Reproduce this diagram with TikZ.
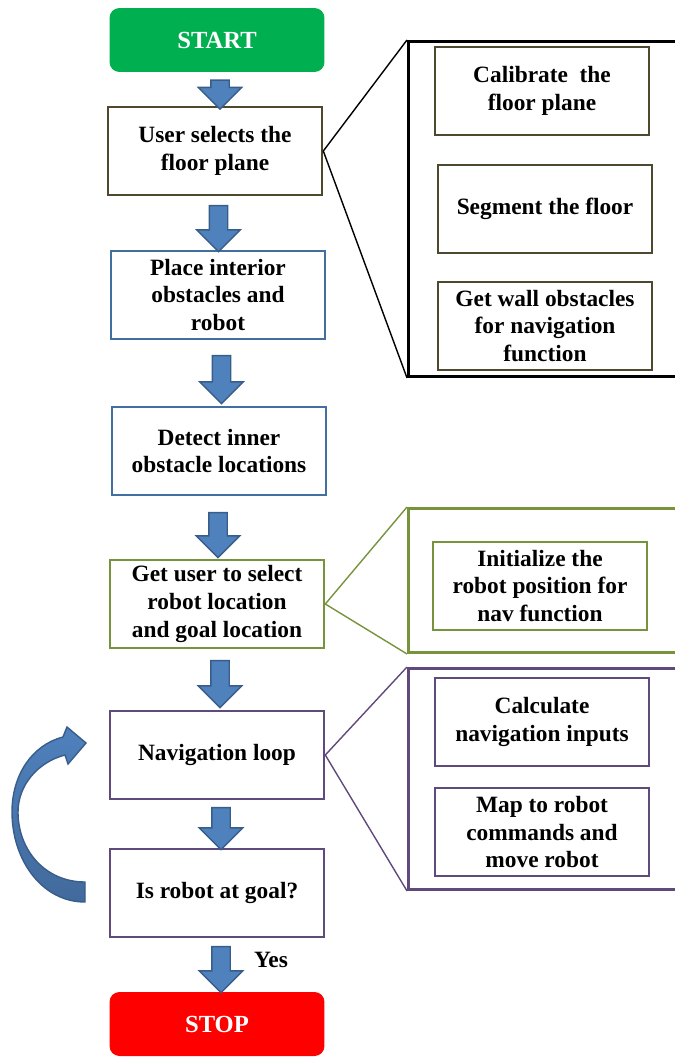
\documentclass[tikz,border=0pt]{standalone}
\usepackage{fontspec}
\setmainfont{Liberation Serif}
\usetikzlibrary{shapes.arrows,calc}
\definecolor{startgreen}{RGB}{0,176,80}
\definecolor{stopred}{RGB}{255,0,0}
\definecolor{olivebox}{RGB}{78,72,46}
\definecolor{bluebox}{RGB}{64,111,160}
\definecolor{greenbox}{RGB}{119,147,60}
\definecolor{purplebox}{RGB}{96,74,123}
\definecolor{arrowfill}{RGB}{79,129,189}
\definecolor{arrowedge}{RGB}{56,93,138}
\definecolor{arrowdark}{RGB}{66,106,156}
\tikzset{
  flowbox/.style={draw=#1, line width=1.5pt, fill=white, minimum width=4.28cm, minimum height=1.76cm, align=center, inner sep=0pt, font=\fontsize{13.3}{15.8}\selectfont\bfseries},
  endbox/.style={fill=#1, rounded corners=0.2cm, minimum width=4.3cm, minimum height=1.28cm, text=white, font=\fontsize{14}{16}\selectfont\bfseries},
  panel/.style={draw=#1, line width=1.7pt, minimum width=5.8cm, anchor=north west},
  darrow/.style={single arrow, draw=arrowedge, fill=arrowfill, line width=0.8pt, rotate=-90, minimum height=#1, minimum width=0.84cm, inner sep=0.17cm, single arrow head extend=0.25cm}
}
\begin{document}
\begin{tikzpicture}[x=0.02cm,y=-0.02cm]
\useasboundingbox (0,0) rectangle (674,1057);
\node [endbox=startgreen] (start) at (217,40) {START};
\node [flowbox=olivebox] (user) at (215,151) {User selects the\\floor plane};
\node [flowbox=bluebox] (place) at (218,295) {Place interior\\obstacles and\\robot};
\node [flowbox=bluebox] (detect) at (219,451) {Detect inner\\obstacle locations};
\node [flowbox=greenbox] (select) at (217,604) {Get user to select\\robot location\\and goal location};
\node [flowbox=purplebox] (nav) at (217,755) {Navigation loop};
\node [flowbox=purplebox] (goal) at (217,893) {Is robot at goal?};
\node [endbox=stopred] (stop) at (217,1024) {STOP};
\node [darrow=0.58cm] (a1) at ($(start.south)!0.5!(user.north)+(4,1)$) {};
\node [darrow=0.92cm] (a2) at ($(user.south)!0.5!(place.north)+(2,1)$) {};
\node [darrow=0.96cm] (a3) at ($(place.south)!0.5!(detect.north)+(3,2)$) {};
\node [darrow=0.9cm] (a4) at ($(detect.south)!0.5!(select.north)+(0,3)$) {};
\node [darrow=0.94cm] (a5) at ($(select.south)!0.5!(nav.north)+(3,0)$) {};
\node [darrow=0.84cm] (a6) at ($(nav.south)!0.5!(goal.north)+(4,0)$) {};
\node [darrow=0.92cm] (a7) at ($(goal.south)!0.5!(stop.north)+(4,0)$) {};
\node [font=\fontsize{13.3}{15.8}\selectfont\bfseries] (yes) at (271,960) {Yes};
\draw [top color=arrowfill, bottom color=arrowdark, draw=arrowedge, line width=0.8pt] (85,902) .. controls (42,902) and (12,860) .. (12,812) .. controls (12,775) and (32,745) .. (63,737) -- (67,727) -- (86,743) -- (68,764) -- (65,755) .. controls (38,762) and (18,785) .. (18,812) .. controls (18,850) and (45,882) .. (85,882) -- cycle;
\node [panel=black, minimum height=6.7cm] (p1) at (407,40) {};
\node [panel=greenbox, minimum height=2.88cm] (p2) at (407,507) {};
\node [panel=purplebox, minimum height=4.42cm] (p3) at (407,667) {};
\draw [line width=0.8pt] (user.east) -- (p1.north west);
\draw [line width=0.8pt] (user.east) -- (p1.south west);
\draw [greenbox, line width=0.8pt] (select.east) -- (p2.north west);
\draw [greenbox, line width=0.8pt] (select.east) -- (p2.south west);
\draw [purplebox, line width=0.8pt] (nav.east) -- (p3.north west);
\draw [purplebox, line width=0.8pt] (nav.east) -- (p3.south west);
\node [flowbox=olivebox] (calib) at (542,91) {Calibrate~ the\\floor plane};
\node [flowbox=olivebox] (segment) at (545,209) {Segment the floor};
\node [flowbox=olivebox] (wall) at (545,326) {Get wall obstacles\\for navigation\\function};
\node [flowbox=greenbox] (init) at (540,586) {Initialize the\\robot position for\\nav function};
\node [flowbox=purplebox] (inputs) at (542,722) {Calculate\\navigation inputs};
\node [flowbox=purplebox] (move) at (542,832) {Map to robot\\commands and\\move robot};
\end{tikzpicture}
\end{document}
